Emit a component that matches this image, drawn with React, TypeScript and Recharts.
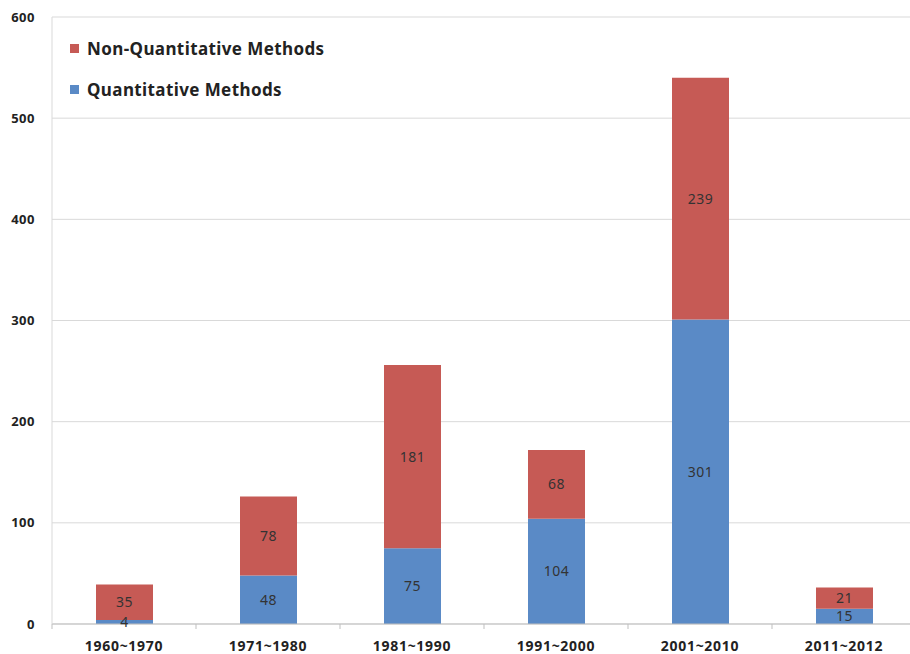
import { BarChart, Bar, XAxis, YAxis, CartesianGrid, LabelList } from "recharts"

const periods = ["1960~1970", "1971~1980", "1981~1990", "1991~2000", "2001~2010", "2011~2012"]
const quantitative = [4, 48, 75, 104, 301, 15]
const nonQuantitative = [35, 78, 181, 68, 239, 21]
const yTicks = [0, 100, 200, 300, 400, 500, 600]

const data = periods.map((period, i) => ({
  period,
  quant: quantitative[i],
  nonQuant: nonQuantitative[i],
}))

const RED = "#C65A55"
const BLUE = "#5A8AC6"
const FONT = "'Noto Sans', 'Liberation Sans', sans-serif"

// tick marks sit on category boundaries, labels in the middle
const CategoryTick = (props: any) => {
  const { x, y, payload, index } = props
  const half = payload.offset ?? 0
  return (
    <g>
      <line x1={x - half} y1={y} x2={x - half} y2={y + 5} stroke="#BFBFBF" />
      {index === periods.length - 1 && (
        <line x1={x + half} y1={y} x2={x + half} y2={y + 5} stroke="#BFBFBF" />
      )}
      <text
        x={x}
        y={y + 17}
        dy="0.71em"
        textAnchor="middle"
        fontSize={14}
        fontWeight={700}
        letterSpacing={0.7}
        fill="#222"
        fontFamily={FONT}
      >
        {payload.value}
      </text>
    </g>
  )
}

const legendItems = [
  { name: "Non-Quantitative Methods", color: RED },
  { name: "Quantitative Methods", color: BLUE },
]

const labelStyle = { fontSize: 14, fill: "#333", fontFamily: FONT, letterSpacing: 0.5 }

export default function App() {
  return (
    <div
      style={{
        position: "fixed",
        top: 0,
        left: 0,
        width: 910,
        height: 654,
        overflow: "hidden",
        background: "#fff",
      }}
    >
      <BarChart
        width={916}
        height={654}
        data={data}
        margin={{ top: 17, right: 0, left: 0, bottom: 0 }}
        barSize={57}
        style={{ overflow: "visible" }}
      >
        <CartesianGrid vertical={false} stroke="#D9D9D9" />
        <XAxis
          dataKey="period"
          height={30}
          stroke="#BFBFBF"
          tickLine={false}
          tickSize={0}
          tickMargin={0}
          tick={<CategoryTick />}
        />
        <YAxis
          width={52}
          domain={[0, 600]}
          ticks={yTicks}
          stroke="#D9D9D9"
          tickLine={false}
          tickMargin={11}
          tick={{ fontSize: 13, fontWeight: 700, fill: "#222", fontFamily: FONT, letterSpacing: 0.5 }}
        />
        <Bar dataKey="quant" stackId="a" fill={BLUE} isAnimationActive={false}>
          <LabelList dataKey="quant" position="center" {...labelStyle} />
        </Bar>
        <Bar dataKey="nonQuant" stackId="a" fill={RED} isAnimationActive={false}>
          <LabelList dataKey="nonQuant" position="center" {...labelStyle} />
        </Bar>
      </BarChart>
      <div
        style={{
          position: "absolute",
          top: 37,
          left: 70,
          fontFamily: FONT,
          fontWeight: 700,
          fontSize: 17,
          letterSpacing: 0.4,
          color: "#222",
        }}
      >
        {legendItems.map((item, i) => (
          <div key={item.name} style={{ display: "flex", alignItems: "center", height: 23, marginBottom: i === 0 ? 18 : 0 }}>
            <span style={{ display: "inline-block", width: 9, height: 9, background: item.color, marginRight: 8 }} />
            <span>{item.name}</span>
          </div>
        ))}
      </div>
    </div>
  )
}
